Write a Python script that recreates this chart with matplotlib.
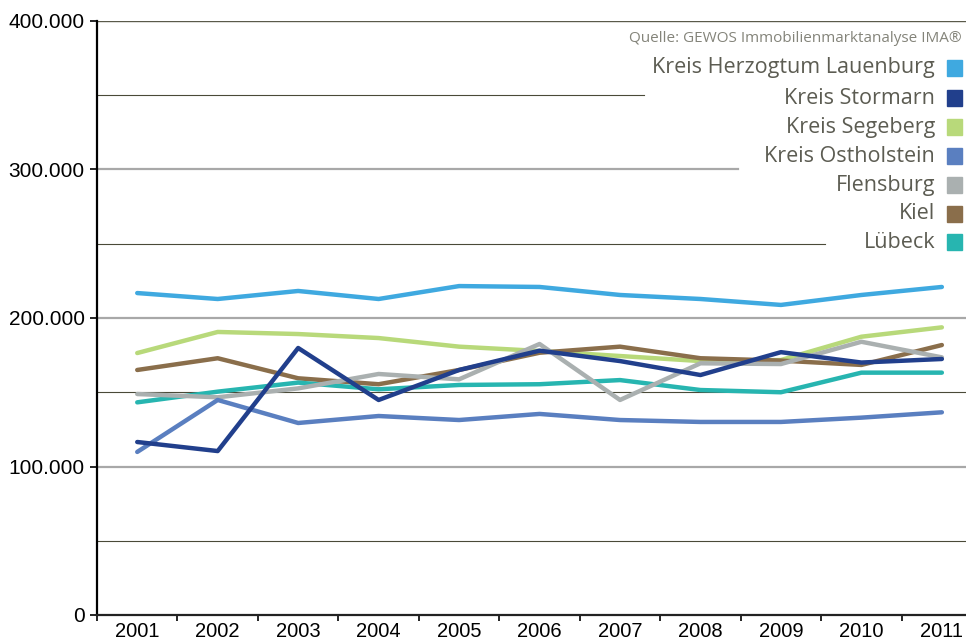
import numpy as np
import matplotlib
matplotlib.use('Agg')
import matplotlib.pyplot as plt

# Average prices per region
years = ['2001', '2002', '2003', '2004', '2005', '2006', '2007', '2008', '2009', '2010', '2011']

lauenburg = [216800, 212800, 218200, 212800, 221500, 220900, 215500, 212800, 208800, 215500, 220900]
stormarn = [116500, 110400, 179800, 144800, 165000, 178000, 171000, 161600, 177000, 170000, 172400]
segeberg = [176400, 190600, 189200, 186500, 180700, 177800, 174400, 171000, 171700, 187400, 193700]
ostholstein = [109800, 144800, 129300, 134000, 131300, 135400, 131300, 130000, 130000, 132900, 136500]
flensburg = [148800, 146600, 152600, 162300, 158700, 182500, 144800, 169500, 169000, 184000, 173500]
kiel = [165000, 172900, 159400, 155400, 165000, 176600, 180700, 172900, 171300, 168400, 181800]
luebeck = [143200, 150400, 156500, 152000, 154900, 155400, 158200, 151500, 150000, 163200, 163200]

names = ['Kreis Herzogtum Lauenburg', 'Kreis Stormarn', 'Kreis Segeberg',
         'Kreis Ostholstein', 'Flensburg', 'Kiel', 'Lübeck']
series = [lauenburg, stormarn, segeberg, ostholstein, flensburg, kiel, luebeck]
colors = ['#3fa9e0', '#213f8c', '#b8d97a', '#5a7fc0', '#aab0b0', '#8a6e4b', '#27b5b0']

# drawing order (back to front)
order = [0, 2, 5, 6, 4, 3, 1]

fig = plt.figure(figsize=(9.66, 6.39), dpi=100)
ax = fig.add_axes([97 / 966, 1 - 615 / 639, (966 - 97) / 966, (615 - 21) / 639])

x = np.arange(len(years))

# gridlines, partly hidden behind the legend block
ax.axhline(400000, color='#5a5a4a', lw=1.0, zorder=1)
for v, xmax in [(350000, 0.63), (250000, 0.838), (150000, 1.0), (50000, 1.0)]:
    ax.axhline(v, xmax=xmax, color='#4a4a38', lw=0.8, zorder=1)
for v, xmax in [(300000, 0.738), (200000, 1.0), (100000, 1.0)]:
    ax.axhline(v, xmax=xmax, color='#a8a8a8', lw=1.6, zorder=1)

for i in order:
    ax.plot(x, series[i], color=colors[i], lw=3.2, solid_capstyle='round', zorder=3)

ax.set_ylim(0, 400000)
ax.set_xlim(-0.5, 10.3)
ax.set_yticks([0, 100000, 200000, 300000, 400000])
ax.set_yticklabels(['0', '100.000', '200.000', '300.000', '400.000'],
                   family='Liberation Sans', fontsize=15)
ax.set_xticks(x)
ax.set_xticklabels(years, family='Liberation Sans', fontsize=14.5)
ax.set_xticks(np.arange(-0.5, 10.5, 1), minor=True)
ax.tick_params(axis='x', which='major', length=0, pad=5)
ax.tick_params(axis='x', which='minor', length=4, width=1.2, direction='out')
ax.tick_params(axis='y', length=5, width=1.2, pad=4)

for s in ['top', 'right']:
    ax.spines[s].set_visible(False)
ax.spines['left'].set_linewidth(1.6)
ax.spines['bottom'].set_linewidth(1.6)
ax.spines['bottom'].set_color('#222222')

# legend drawn as text + squares
txt_col = '#5c5c52'
fig.text(962 / 966, 1 - 38 / 639, 'Quelle: GEWOS Immobilienmarktanalyse IMA®',
         ha='right', va='center', fontsize=11, color='#84847a', family='Open Sans')
row_y = [68, 98, 127, 156, 185, 214, 242]
for name, c, yy in zip(names, colors, row_y):
    fig.text(935 / 966, 1 - yy / 639, name, ha='right', va='center',
             fontsize=15.5, color=txt_col, family='Open Sans')
    fig.patches.append(plt.Rectangle((947 / 966, 1 - (yy + 8) / 639), 15 / 966, 16 / 639,
                                     transform=fig.transFigure, color=c))

fig.savefig('out.png', dpi=100)
